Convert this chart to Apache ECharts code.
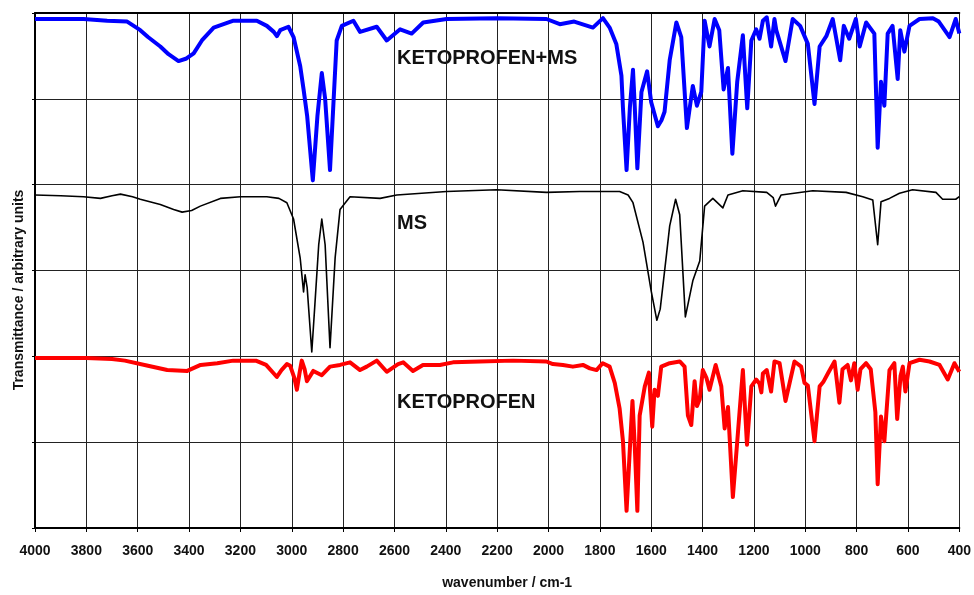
<!DOCTYPE html>
<html>
<head>
<meta charset="utf-8">
<script src="https://cdn.jsdelivr.net/npm/echarts@6/dist/echarts.min.js"></script>
<style>
  html, body { margin: 0; padding: 0; background: #fff; }
  #main { width: 974px; height: 595px; }
</style>
</head>
<body>
<div id="main"></div>
<script>
// offsets are built in: each grid band = 1 unit, MS sits in the middle band pair, the mix on top
var ketoWn = [4000, 3800, 3700, 3650, 3560, 3485, 3407, 3355, 3290, 3228, 3140, 3100, 3070, 3058, 3040, 3019, 3006, 2990, 2980, 2970, 2961, 2950, 2941, 2916, 2883, 2851, 2812, 2773, 2734, 2708, 2669, 2630, 2586, 2566, 2528, 2489, 2423, 2372, 2267, 2138, 2008, 1983, 1944, 1905, 1866, 1839, 1813, 1789, 1762, 1742, 1723, 1710, 1696, 1683, 1673, 1664, 1654, 1645, 1625, 1609, 1596, 1587, 1574, 1561, 1528, 1489, 1470, 1457, 1444, 1431, 1422, 1411, 1399, 1385, 1373, 1349, 1327, 1314, 1301, 1282, 1262, 1243, 1227, 1210, 1191, 1178, 1171, 1165, 1150, 1133, 1120, 1100, 1077, 1061, 1042, 1016, 1003, 990, 964, 944, 930, 912, 886, 867, 855, 835, 822, 809, 796, 785, 763, 745, 727, 718, 705, 692, 672, 653, 642, 629, 620, 610, 594, 555, 516, 477, 445, 419, 400];
var ketoT = [1.98, 1.98, 1.97, 1.95, 1.89, 1.84, 1.83, 1.90, 1.92, 1.95, 1.95, 1.90, 1.80, 1.76, 1.84, 1.91, 1.89, 1.75, 1.61, 1.80, 1.95, 1.85, 1.71, 1.83, 1.78, 1.88, 1.90, 1.93, 1.84, 1.88, 1.95, 1.82, 1.91, 1.93, 1.83, 1.90, 1.90, 1.93, 1.94, 1.95, 1.94, 1.91, 1.90, 1.88, 1.90, 1.86, 1.84, 1.92, 1.88, 1.69, 1.39, 1.01, 0.20, 0.93, 1.48, 0.95, 0.20, 1.31, 1.65, 1.81, 1.18, 1.61, 1.54, 1.88, 1.92, 1.94, 1.88, 1.31, 1.20, 1.71, 1.42, 1.50, 1.84, 1.75, 1.61, 1.90, 1.65, 1.16, 1.41, 0.36, 1.12, 1.84, 0.97, 1.65, 1.73, 1.68, 1.58, 1.80, 1.84, 1.59, 1.94, 1.92, 1.48, 1.69, 1.94, 1.88, 1.69, 1.66, 1.01, 1.65, 1.70, 1.80, 1.94, 1.46, 1.85, 1.90, 1.72, 1.92, 1.61, 1.85, 1.92, 1.85, 1.35, 0.51, 1.30, 1.01, 1.84, 1.92, 1.27, 1.77, 1.88, 1.59, 1.92, 1.96, 1.94, 1.90, 1.73, 1.92, 1.82];

var msWn = [4000, 3900, 3811, 3745, 3700, 3667, 3620, 3590, 3512, 3460, 3427, 3390, 3356, 3278, 3200, 3097, 3050, 3019, 2993, 2967, 2954, 2948, 2940, 2922, 2910, 2895, 2883, 2870, 2851, 2831, 2812, 2773, 2656, 2591, 2397, 2202, 2008, 1879, 1723, 1690, 1671, 1632, 1600, 1578, 1565, 1540, 1528, 1505, 1489, 1467, 1438, 1411, 1392, 1360, 1321, 1301, 1243, 1150, 1125, 1116, 1094, 971, 841, 776, 737, 718, 705, 672, 633, 582, 491, 465, 414, 400];
var msT = [3.88, 3.87, 3.86, 3.84, 3.87, 3.89, 3.86, 3.83, 3.77, 3.71, 3.68, 3.70, 3.75, 3.84, 3.86, 3.86, 3.84, 3.79, 3.60, 3.14, 2.75, 2.95, 2.80, 2.05, 2.60, 3.30, 3.60, 3.30, 2.10, 3.15, 3.71, 3.86, 3.84, 3.88, 3.92, 3.94, 3.91, 3.92, 3.92, 3.88, 3.79, 3.33, 2.76, 2.42, 2.55, 3.20, 3.52, 3.83, 3.65, 2.46, 2.88, 3.11, 3.75, 3.84, 3.73, 3.88, 3.93, 3.91, 3.85, 3.75, 3.88, 3.93, 3.91, 3.86, 3.82, 3.30, 3.80, 3.84, 3.90, 3.94, 3.91, 3.83, 3.83, 3.86];

var mixWn = [4000, 3811, 3719, 3641, 3590, 3560, 3512, 3480, 3441, 3410, 3382, 3350, 3304, 3227, 3136, 3097, 3070, 3058, 3045, 3013, 2993, 2967, 2954, 2940, 2918, 2900, 2883, 2870, 2851, 2825, 2805, 2760, 2734, 2669, 2630, 2578, 2533, 2488, 2397, 2202, 2008, 1956, 1900, 1827, 1788, 1762, 1736, 1716, 1710, 1696, 1683, 1671, 1664, 1654, 1638, 1616, 1600, 1574, 1560, 1548, 1528, 1502, 1483, 1461, 1438, 1422, 1405, 1392, 1373, 1353, 1335, 1318, 1301, 1284, 1265, 1243, 1226, 1210, 1191, 1178, 1165, 1150, 1133, 1120, 1113, 1077, 1049, 1020, 990, 964, 944, 918, 893, 864, 850, 829, 803, 788, 763, 731, 718, 705, 692, 679, 660, 640, 630, 614, 594, 555, 503, 480, 438, 414, 400];
var mixT = [5.93, 5.93, 5.91, 5.90, 5.80, 5.72, 5.61, 5.52, 5.44, 5.47, 5.53, 5.68, 5.83, 5.91, 5.91, 5.85, 5.78, 5.73, 5.80, 5.84, 5.72, 5.38, 5.11, 4.80, 4.05, 4.80, 5.30, 5.00, 4.17, 5.68, 5.85, 5.91, 5.78, 5.84, 5.68, 5.81, 5.76, 5.89, 5.93, 5.94, 5.93, 5.87, 5.90, 5.83, 5.94, 5.83, 5.64, 5.27, 4.89, 4.17, 4.90, 5.34, 4.90, 4.19, 5.08, 5.32, 4.96, 4.68, 4.75, 4.85, 5.45, 5.89, 5.72, 4.66, 5.15, 4.92, 5.08, 5.91, 5.61, 5.93, 5.80, 5.11, 5.36, 4.36, 5.20, 5.74, 4.89, 5.68, 5.81, 5.70, 5.91, 5.95, 5.61, 5.93, 5.80, 5.44, 5.93, 5.85, 5.64, 4.94, 5.61, 5.73, 5.93, 5.45, 5.85, 5.70, 5.93, 5.61, 5.89, 5.76, 4.43, 5.20, 4.92, 5.76, 5.85, 5.23, 5.80, 5.55, 5.85, 5.93, 5.94, 5.90, 5.72, 5.93, 5.76];

function pairs(xs, ys) {
  var out = [];
  for (var i = 0; i < xs.length; i++) out.push([xs[i], ys[i]]);
  return out;
}

var chart = echarts.init(document.getElementById('main'));

var option = {
  animation: false,
  backgroundColor: '#fff',
  grid: { left: 35, right: 14, top: 13, bottom: 55 },
  xAxis: [{
    type: 'value',
    inverse: true,
    min: 400,
    max: 4000,
    interval: 200,
    name: 'wavenumber / cm-1',
    nameLocation: 'middle',
    nameGap: 48,
    nameTextStyle: { fontFamily: 'Liberation Sans', fontWeight: 'bold', fontSize: 14, color: '#111', padding: [0, 0, 0, 20] },
    axisLine: { lineStyle: { color: '#000', width: 2 } },
    axisTick: { show: true, length: 4, lineStyle: { color: '#000' } },
    axisLabel: {
      fontFamily: 'Liberation Sans', fontWeight: 'bold', fontSize: 14, color: '#111', margin: 16,
      formatter: function (v) { return String(v); }
    },
    splitLine: { show: true, lineStyle: { color: '#222', width: 1 } }
  }, {
    type: 'value',
    position: 'top',
    inverse: true,
    min: 400,
    max: 4000,
    axisLine: { show: true, lineStyle: { color: '#000', width: 2 } },
    axisTick: { show: false },
    axisLabel: { show: false },
    splitLine: { show: false }
  }],
  yAxis: {
    type: 'value',
    min: 0,
    max: 6,
    interval: 1,
    axisLine: { show: true, lineStyle: { color: '#000', width: 2 } },
    axisTick: { show: true, length: 3, lineStyle: { color: '#000' } },
    axisLabel: { show: false },
    splitLine: { show: true, lineStyle: { color: '#222', width: 1 } }
  },
  series: [{
    name: 'KETOPROFEN+MS',
    type: 'line',
    data: pairs(mixWn, mixT),
    showSymbol: false,
    lineStyle: { color: '#0000ff', width: 4, join: 'round' },
    z: 3
  }, {
    name: 'MS',
    type: 'line',
    data: pairs(msWn, msT),
    showSymbol: false,
    lineStyle: { color: '#000', width: 1.6, join: 'round' },
    z: 3
  }, {
    name: 'KETOPROFEN',
    type: 'line',
    data: pairs(ketoWn, ketoT),
    showSymbol: false,
    lineStyle: { color: '#ff0000', width: 4, join: 'round' },
    z: 3
  }],
  graphic: [{
    type: 'text', x: 397, y: 58,
    style: { text: 'KETOPROFEN+MS', font: 'bold 20px "Liberation Sans"', fill: '#111', verticalAlign: 'middle' }
  }, {
    type: 'text', x: 397, y: 223,
    style: { text: 'MS', font: 'bold 20px "Liberation Sans"', fill: '#111', verticalAlign: 'middle' }
  }, {
    type: 'text', x: 397, y: 402,
    style: { text: 'KETOPROFEN', font: 'bold 20px "Liberation Sans"', fill: '#111', verticalAlign: 'middle' }
  }, {
    type: 'text', x: 19, y: 290, rotation: Math.PI / 2,
    style: { text: 'Transmittance / arbitrary units', font: 'bold 14px "Liberation Sans"', fill: '#111', align: 'center', verticalAlign: 'middle' }
  }]
};

chart.setOption(option);
</script>
</body>
</html>
